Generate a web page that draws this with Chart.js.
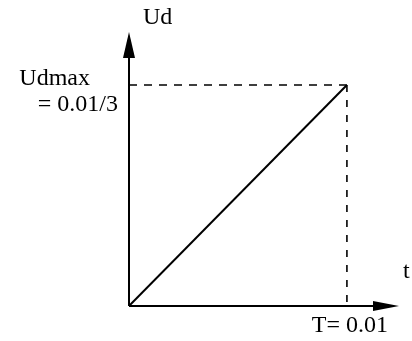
<!DOCTYPE html>
<html>
<head>
<meta charset="utf-8">
<script src="https://cdn.jsdelivr.net/npm/chart.js@4/dist/chart.umd.min.js"></script>
<style>
  html, body { margin: 0; padding: 0; background: #fff; }
  #wrap { width: 412px; height: 341px; }
</style>
</head>
<body>
<div id="wrap"><canvas id="udChart"></canvas></div>
<script>
// Data
const T = 0.01;
const udMax = 0.01 / 3;
const rampT = [0, T];
const rampUd = [0, udMax];
// axis extents (where the arrows end)
const tAxisEnd = 0.01239;
const udAxisEnd = 0.004133;
// labels
const yAxisTitle = "Ud";
const xAxisTitle = "t";
const udMaxLabel = ["Udmax", "= 0.01/3"];
const tLabel = "T= 0.01";

const FONT = '24px "Liberation Serif", "DejaVu Serif", serif';

// axes with arrowheads + text labels
const arrowAxes = {
  id: 'arrowAxes',
  afterDatasetsDraw(chart) {
    const ctx = chart.ctx;
    const x = chart.scales.x, y = chart.scales.y;
    const x0 = x.getPixelForValue(0), y0 = y.getPixelForValue(0);
    const xe = x.getPixelForValue(tAxisEnd), ye = y.getPixelForValue(udAxisEnd);
    ctx.save();
    ctx.strokeStyle = '#000';
    ctx.fillStyle = '#000';
    ctx.lineWidth = 2;
    ctx.beginPath();
    ctx.moveTo(x0, y0); ctx.lineTo(x0, ye + 20);
    ctx.moveTo(x0, y0); ctx.lineTo(xe - 20, y0);
    ctx.stroke();
    // up arrow
    ctx.beginPath();
    ctx.moveTo(x0, ye); ctx.lineTo(x0 - 6, ye + 26); ctx.lineTo(x0 + 6, ye + 26);
    ctx.closePath(); ctx.fill();
    // right arrow
    ctx.beginPath();
    ctx.moveTo(xe, y0); ctx.lineTo(xe - 26, y0 - 5); ctx.lineTo(xe - 26, y0 + 5);
    ctx.closePath(); ctx.fill();

    ctx.font = FONT;
    ctx.textBaseline = 'middle';
    ctx.textAlign = 'left';
    ctx.fillText(yAxisTitle, x0 + 14, 18);
    ctx.fillText(xAxisTitle, xe + 4, y0 - 34);
    ctx.textAlign = 'right';
    const ym = y.getPixelForValue(udMax);
    ctx.fillText(udMaxLabel[0], x0 - 39, ym - 6);
    ctx.fillText(udMaxLabel[1], x0 - 11, ym + 20);
    ctx.textAlign = 'center';
    ctx.fillText(tLabel, x.getPixelForValue(T) + 3, y0 + 20);
    ctx.restore();
  }
};

new Chart(document.querySelector('#udChart'), {
  type: 'line',
  data: {
    datasets: [
      {
        label: 'Ud',
        data: rampT.map((t, i) => ({ x: t, y: rampUd[i] })),
        borderColor: '#000',
        borderWidth: 2,
        pointRadius: 0
      },
      {
        label: 'Udmax level',
        data: [{ x: 0, y: udMax }, { x: T, y: udMax }],
        borderColor: '#000',
        borderWidth: 1.6,
        borderDash: [8, 7],
        pointRadius: 0
      },
      {
        label: 'T marker',
        data: [{ x: T, y: udMax }, { x: T, y: 0 }],
        borderColor: '#000',
        borderWidth: 1.6,
        borderDash: [7, 8],
        pointRadius: 0
      }
    ]
  },
  options: {
    responsive: true,
    maintainAspectRatio: false,
    animation: false,
    layout: { padding: { left: 129, right: 13, top: 32, bottom: 35 } },
    plugins: { legend: { display: false }, tooltip: { enabled: false } },
    scales: {
      x: { type: 'linear', display: false, min: 0, max: tAxisEnd },
      y: { type: 'linear', display: false, min: 0, max: udAxisEnd }
    }
  },
  plugins: [arrowAxes]
});
</script>
</body>
</html>
